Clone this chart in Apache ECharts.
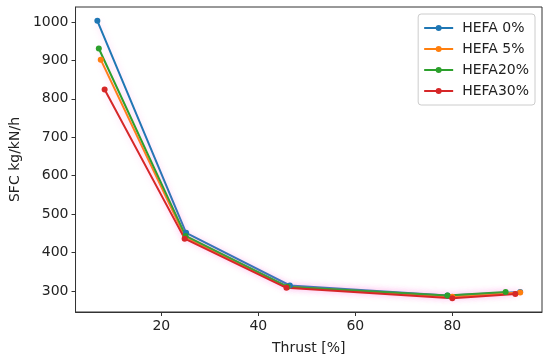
<!DOCTYPE html>
<html><head><meta charset="utf-8">
<script src="https://cdn.jsdelivr.net/npm/echarts@6/dist/echarts.min.js"></script>
<style>html,body{margin:0;padding:0;background:#fff}#c{width:550px;height:361px}</style>
</head><body><div id="c"></div>
<script>
const seriesNames = ['HEFA 0%', 'HEFA 5%', 'HEFA20%', 'HEFA30%'];
const colors = ['#1f77b4', '#ff7f0e', '#2ca02c', '#d62728'];
const thrust0 = [6.8, 25.1, 46.5, 79.0, 94.0];
const sfc0 = [1003, 451, 314, 288, 297];
const thrust5 = [7.5, 24.9, 46.0, 80.0, 94.0];
const sfc5 = [902, 440, 310, 285, 296];
const thrust20 = [7.1, 25.0, 46.0, 79.0, 91.0];
const sfc20 = [931, 443, 311, 288, 297];
const thrust30 = [8.3, 24.8, 45.8, 80.0, 93.0];
const sfc30 = [824, 436, 308, 281, 292];
const xTicks = [20, 40, 60, 80];
const yTicks = [300, 400, 500, 600, 700, 800, 900, 1000];

const xs = [thrust0, thrust5, thrust20, thrust30];
const ys = [sfc0, sfc5, sfc20, sfc30];
const font = 'DejaVu Sans';
const fs = 14;
const chart = echarts.init(document.getElementById('c'));
chart.setOption({
  animation: false,
  backgroundColor: '#fff',
  grid: {left: 73, right: 8, top: 7, bottom: 49, show: true, borderColor: '#333', borderWidth: 1},
  legend: {
    right: 15, top: 14, orient: 'vertical', itemGap: 7,
    itemWidth: 29, itemHeight: 6,
    padding: [7, 6, 7, 6],
    borderColor: '#ccc', borderWidth: 1, borderRadius: 3,
    textStyle: {fontFamily: font, fontSize: fs, color: '#222', padding: [0, 0, 0, 4], lineHeight: 14},
    data: seriesNames.map(n => ({name: n, icon: 'path://M0,2L29,2L29,4L0,4Z M11.5,3A3,3 0 1,1 17.5,3A3,3 0 1,1 11.5,3Z'}))
  },
  xAxis: {
    type: 'value', min: 2.3, max: 98.5,
    name: 'Thrust [%]', nameLocation: 'middle', nameGap: 29,
    nameTextStyle: {fontFamily: font, fontSize: fs, color: '#222'},
    axisLine: {show: true, lineStyle: {color: '#333'}},
    axisTick: {show: true, length: 4, lineStyle: {color: '#333'}, customValues: xTicks},
    axisLabel: {fontFamily: font, fontSize: fs, color: '#222', margin: 7, customValues: xTicks},
    splitLine: {show: false}
  },
  yAxis: {
    type: 'value', min: 245, max: 1039,
    name: 'SFC kg/kN/h', nameLocation: 'middle', nameGap: 50,
    nameTextStyle: {fontFamily: font, fontSize: fs, color: '#222'},
    axisLine: {show: true, lineStyle: {color: '#333'}},
    axisTick: {show: true, length: 4, lineStyle: {color: '#333'}, customValues: yTicks},
    axisLabel: {fontFamily: font, fontSize: fs, color: '#222', margin: 7, customValues: yTicks,
      formatter: v => String(v)},
    splitLine: {show: false}
  },
  series: seriesNames.map((n, i) => ({
    name: n, type: 'line',
    data: xs[i].map((x, j) => [x, ys[i][j]]),
    color: colors[i],
    symbol: 'circle', symbolSize: 6,
    lineStyle: {width: 2, shadowColor: 'rgba(255,120,220,0.35)', shadowBlur: 6},
    itemStyle: {color: colors[i]}
  }))
});
</script></body></html>
